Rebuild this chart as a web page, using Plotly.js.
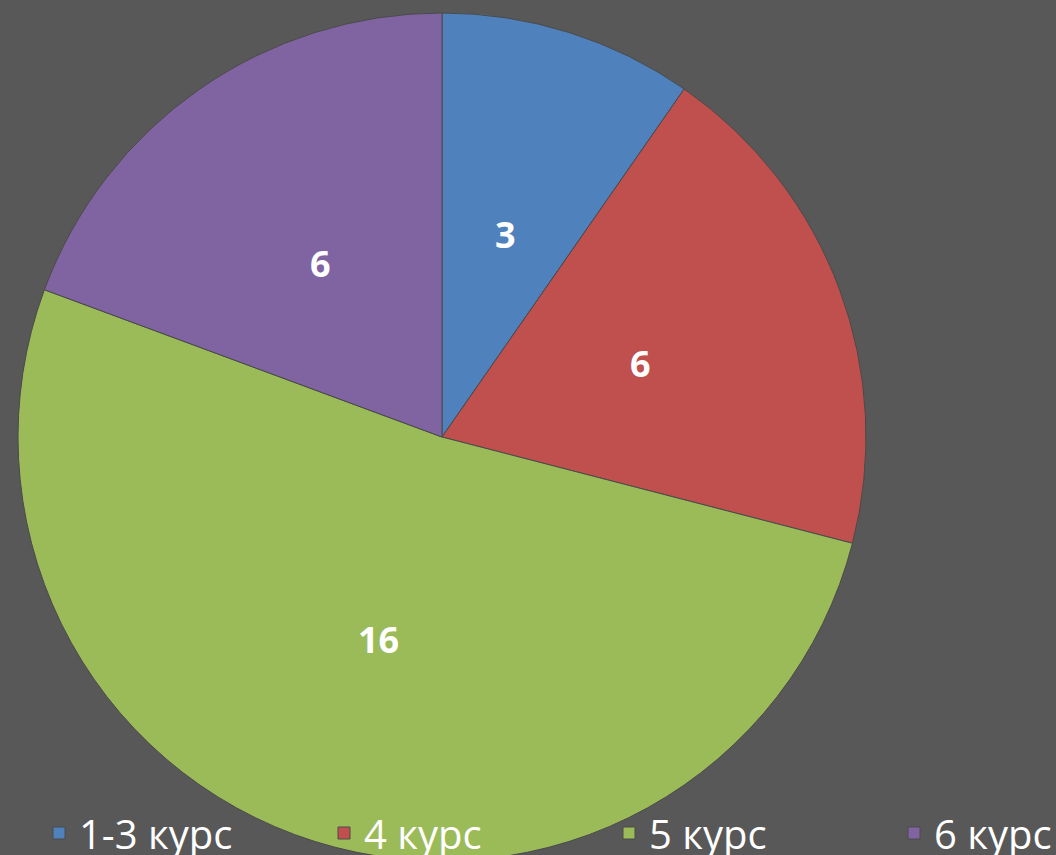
<!DOCTYPE html>
<html>
<head>
<meta charset="utf-8">
<script src="https://cdn.plot.ly/plotly-3.0.1.min.js"></script>
<style>
  html, body { margin: 0; padding: 0; background: #585858; overflow: hidden; }
  #chart { width: 1160px; height: 870px; }
</style>
</head>
<body>
<div id="chart"></div>
<script>
const categories = ["1-3 курс", "4 курс", "5 курс", "6 курс"];
const counts = [3, 6, 16, 6];
const sliceColors = ["#4F81BD", "#C0504D", "#9BBB59", "#8064A2"];

const W = 1160, H = 870;
const pieDomX = [18 / W, 866 / W];
const pieDomY = [1 - 861 / H, 1 - 13 / H];

// label positions: half-radius along each slice's bisector (clockwise from top)
const total = counts.reduce((a, b) => a + b, 0);
let cum = 0;
const labelX = [], labelY = [];
counts.forEach(v => {
  const theta = 2 * Math.PI * (cum + v / 2) / total;
  labelX.push(0.5 * Math.sin(theta));
  labelY.push(0.5 * Math.cos(theta));
  cum += v;
});

const pie = {
  type: "pie",
  labels: categories,
  values: counts,
  sort: false,
  direction: "clockwise",
  rotation: 0,
  textinfo: "none",
  marker: { colors: sliceColors, line: { color: "#4a4a4a", width: 1 } },
  domain: { x: pieDomX, y: pieDomY },
  hoverinfo: "none"
};

const anchorTrace = {
  type: "scatter", mode: "markers",
  x: labelX, y: labelY,
  marker: { opacity: 0 }, showlegend: false, hoverinfo: "none"
};

const annotations = counts.map((v, i) => ({
  xref: "x", yref: "y", x: labelX[i], y: labelY[i],
  text: String(v), showarrow: false,
  xanchor: "center", yanchor: "middle",
  font: { family: "Open Sans, sans-serif", size: 36, color: "#ffffff", weight: "bold" }
}));

const layout = {
  width: W, height: H,
  margin: { l: 0, r: 0, t: 0, b: 0, autoexpand: false },
  paper_bgcolor: "#585858",
  plot_bgcolor: "rgba(0,0,0,0)",
  xaxis: { domain: pieDomX, range: [-1, 1], visible: false, fixedrange: true },
  yaxis: { domain: pieDomY, range: [-1, 1], visible: false, fixedrange: true },
  annotations: annotations,
  showlegend: true,
  legend: {
    orientation: "h",
    x: 39 / W, xanchor: "left",
    y: 1 - 833 / H, yanchor: "middle",
    bgcolor: "rgba(0,0,0,0)",
    font: { family: "Open Sans, sans-serif", size: 40, color: "#ffffff" },
    entrywidth: 240, entrywidthmode: "pixels",
    traceorder: "normal"
  }
};

Plotly.newPlot("chart", [pie, anchorTrace], layout, { displayModeBar: false, staticPlot: true });
</script>
</body>
</html>
